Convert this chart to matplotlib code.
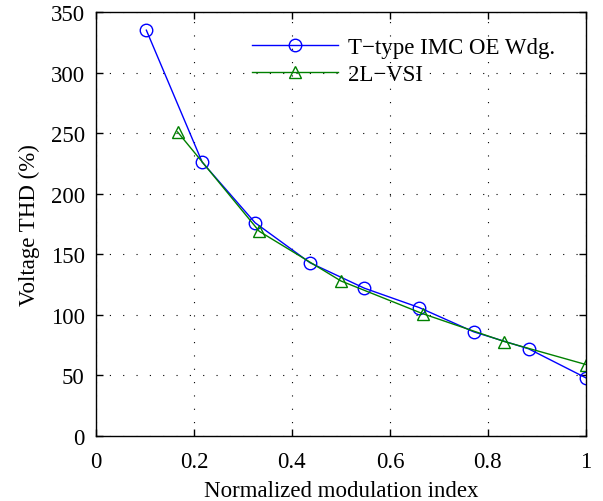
import matplotlib
matplotlib.use("Agg")
import matplotlib.pyplot as plt

t_x = [0.103, 0.217, 0.325, 0.437, 0.548, 0.660, 0.771, 0.883, 1.0]
t_y = [335, 226, 176, 143, 122, 106, 86, 72, 48]
v_x = [0.1667, 0.3333, 0.5, 0.6667, 0.8333, 1.0]
v_y = [251, 169, 128, 101, 78, 59]
labels = ["T\u2212type IMC OE Wdg.", "2L\u2212VSI"]

plt.rcParams['font.family'] = ['Liberation Serif', 'DejaVu Serif']
plt.rcParams['font.size'] = 16.5

fig = plt.figure(figsize=(6.03, 5.02), dpi=100)
ax = fig.add_axes([0.159, 0.1295, 0.8126, 0.8446])
ax.plot(t_x, t_y, color=(0, 0, 1), lw=1, marker='o', ms=9, mfc='none', mew=1, label=labels[0])
ax.plot(v_x, v_y, color=(0, 0.5, 0), lw=1, marker='^', ms=9, mfc='none', mew=1, label=labels[1])
ax.set_xlim(0, 1)
ax.set_ylim(0, 350)
ax.set_xticks([0, 0.2, 0.4, 0.6, 0.8, 1])
ax.set_xticklabels(["0", "0.2", "0.4", "0.6", "0.8", "1"])
ax.set_yticks(range(0, 351, 50))
ax.grid(True, color='black', linestyle=(0, (1, 11)), linewidth=0.8)
ax.tick_params(direction='in', top=True, right=True, length=5, width=1)
ax.tick_params(axis='x', pad=11)
ax.tick_params(axis='y', pad=8)
for s in ax.spines.values():
    s.set_linewidth(1)
ax.set_xlabel("Normalized modulation index", labelpad=5.5)
ax.set_ylabel("Voltage THD (%)", labelpad=8)
leg = ax.legend(loc='upper right', frameon=False, handlelength=3.75, borderaxespad=0.0,
                handletextpad=0.45, labelspacing=0.25, bbox_to_anchor=(0.956, 0.963))
fig.savefig("out.png", dpi=100)
